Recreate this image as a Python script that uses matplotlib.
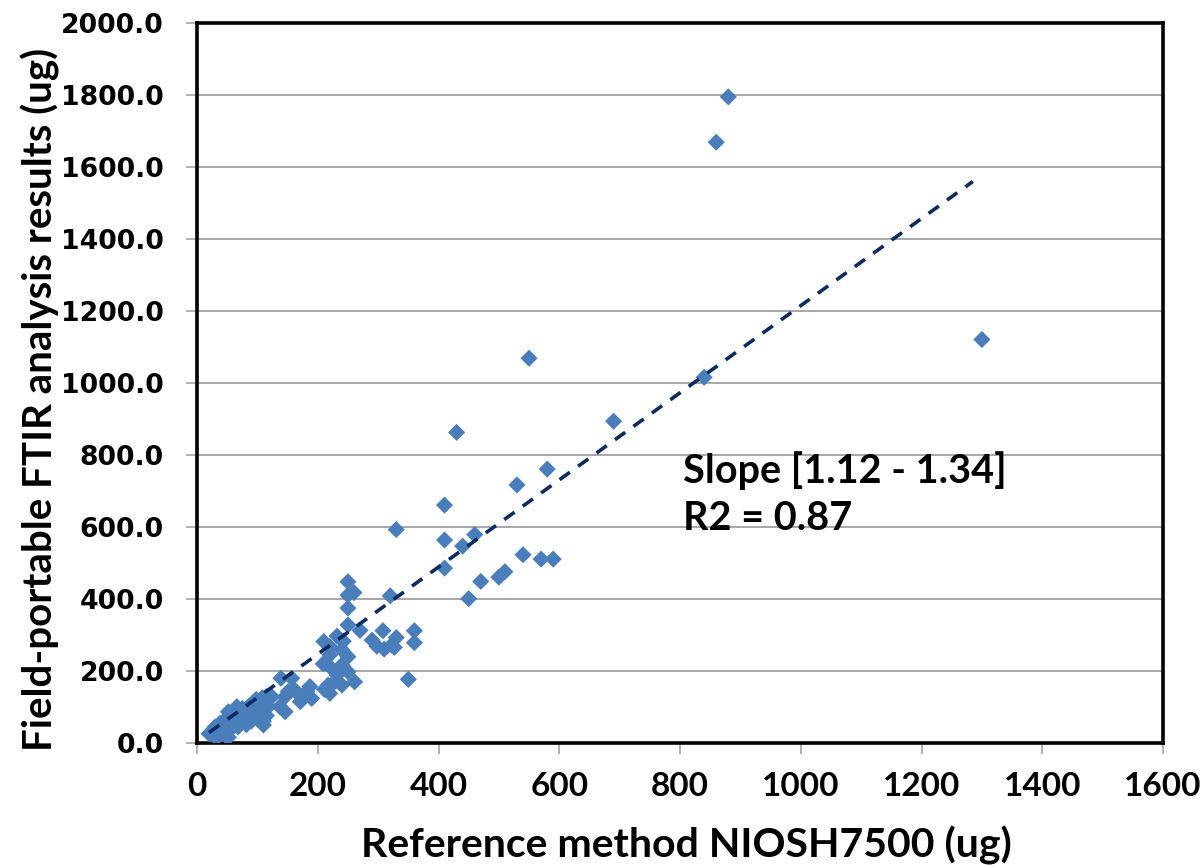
import matplotlib
matplotlib.use("Agg")
import matplotlib.pyplot as plt
import numpy as np

# Reference method NIOSH7500 (ug)
ref_x = [
    20, 25, 28, 30, 32, 35, 38, 40, 42, 45, 48, 50, 50, 52, 55, 58, 60, 62, 65, 68,
    70, 72, 75, 78, 80, 82, 85, 88, 90, 92, 95, 98, 100, 105, 108, 110, 112, 115,
    22, 30, 35, 38, 46, 49, 52, 57, 66, 68, 74, 80, 88, 99, 107, 110,
    115, 118, 124, 137, 139, 146, 146, 151, 157, 162, 170, 171, 182, 187, 190,
    209, 211, 217, 220, 220, 220, 228, 232, 240, 240, 240, 242, 250, 250, 261,
    210, 220, 232, 242, 250, 270, 290, 298, 308, 310, 322, 327, 330, 360, 360,
    250, 250, 250, 260, 320, 330, 350,
    410, 410, 410, 430, 440, 450, 460, 470, 500, 510, 530, 540, 550, 570, 580, 590,
    690, 840, 860, 880, 1300,
]
# Field-portable FTIR analysis results (ug)
ftir_y = [
    25, 30, 20, 38, 28, 45, 35, 50, 25, 55, 40, 60, 30, 15, 70, 50, 45, 80, 60, 90,
    55, 75, 95, 65, 85, 50, 100, 70, 60, 110, 80, 120, 95, 85, 125, 60, 105, 75,
    26, 44, 17, 54, 63, 17, 86, 40, 100, 44, 72, 54, 82, 77, 82, 49,
    128, 100, 128, 100, 179, 86, 128, 142, 179, 146, 132, 114, 142, 156, 123,
    219, 148, 160, 137, 211, 267, 169, 188, 160, 216, 258, 282, 197, 239, 169,
    281, 244, 296, 282, 327, 312, 285, 268, 311, 260, 271, 265, 292, 311, 278,
    447, 410, 374, 417, 408, 592, 176,
    660, 563, 485, 862, 546, 400, 578, 448, 460, 475, 716, 522, 1068, 510, 760, 510,
    893, 1015, 1668, 1794, 1120,
]

x_ticks = [0, 200, 400, 600, 800, 1000, 1200, 1400, 1600]
y_ticks = [0, 200, 400, 600, 800, 1000, 1200, 1400, 1600, 1800, 2000]

trend_slope = 1.21
trend_intercept = 4.0

annotation_lines = ["Slope [1.12 - 1.34]", "R2 = 0.87"]
x_title = "Reference method NIOSH7500 (ug)"
y_title = "Field-portable FTIR analysis results (ug)"

fig = plt.figure(figsize=(12.04, 8.66), dpi=100)
ax = fig.add_axes([197 / 1204, 1 - 742.7 / 866, (1163 - 197) / 1204, (742.7 - 22.7) / 866])

ax.set_xlim(0, 1600)
ax.set_ylim(0, 2000)
ax.set_xticks(x_ticks)
ax.set_yticks(y_ticks)
ax.set_yticklabels([f"{v:.1f}" for v in y_ticks], fontfamily="DejaVu Sans",
                   fontweight="bold", fontsize=19.2)
ax.set_xticklabels([str(v) for v in x_ticks], fontfamily="Lato",
                   fontweight="bold", fontsize=24)
ax.tick_params(axis="both", direction="out", color="#A6A6A6", length=8, width=1.2)
ax.tick_params(axis="x", pad=13)
ax.tick_params(axis="y", pad=16)

ax.grid(axis="y", color="#A0A0A0", linewidth=1.3)
ax.set_axisbelow(True)
for s in ax.spines.values():
    s.set_linewidth(2.6)
    s.set_color("black")

ax.scatter(ref_x, ftir_y, marker="D", s=76, color="#4A7EBB", edgecolors="none", zorder=3)

tx = np.array([min(ref_x), 1285])
ax.plot(tx, trend_slope * tx + trend_intercept, linestyle=(0, (3.5, 2.8)),
        color="#0D2A63", linewidth=2.6, zorder=4)

ax.text(805, 757, annotation_lines[0], fontfamily="Lato", fontweight="bold",
        fontsize=28.5, va="center", ha="left")
ax.text(805, 624, annotation_lines[1], fontfamily="Lato", fontweight="bold",
        fontsize=28.5, va="center", ha="left")

fig.text(686 / 1204, 1 - 845 / 866, x_title, fontfamily="Lato", fontweight="bold",
         fontsize=29.5, ha="center", va="center")
fig.text(40 / 1204, 1 - 399 / 866, y_title, fontfamily="Lato", fontweight="bold",
         fontsize=29, ha="center", va="center", rotation=90)

fig.savefig("out.png", dpi=100)
